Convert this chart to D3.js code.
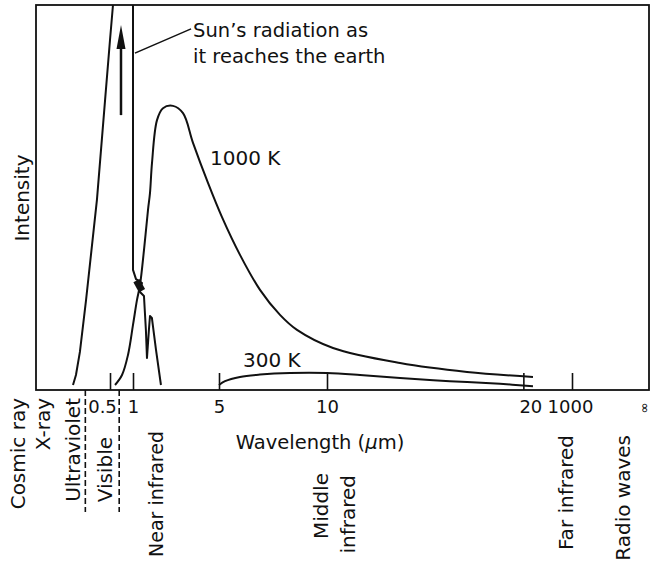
<!DOCTYPE html>
<html>
<head>
<meta charset="utf-8">
<script src="https://cdn.jsdelivr.net/npm/d3@7"></script>
<style>
  body { margin: 0; background: #fff; }
  svg { display: block; font-family: "DejaVu Sans", sans-serif; fill: #111; }
</style>
</head>
<body>
<svg id="chart" width="652" height="562"></svg>
<script>
// curves as [wavelength (um), relative intensity]
var sunCurve = [
    [0.350, 1.3], [0.362, 3.9], [0.378, 9.9], [0.403, 23.4], [0.447, 49.4],
    [0.480, 75.3], [0.500, 90.9], [0.565, 100], [0.630, 109.1], [0.804, 116.9],
    [1.0, 109.1], [1.0, 31.2], [1.14, 28.8], [1.42, 27.8], [1.28, 25.7],
    [1.51, 24.4], [1.60, 15.6], [1.65, 8.3], [1.74, 15.6], [1.79, 19.2],
    [1.88, 18.7], [2.07, 10.4], [2.30, 1.3]
];
var sunKnot = [[1.16, 28.4], [1.42, 25.8]];

var curve1000K = [
    [0.609, 1.3], [0.761, 3.9], [0.891, 9.1], [1.0, 16.9], [1.186, 23.4],
    [1.326, 27.3], [1.512, 36.4], [1.698, 46.8], [1.791, 51.2], [1.884, 59.0],
    [2.116, 70.1], [2.395, 73.2], [2.860, 73.8], [3.326, 71.9], [3.791, 64.2],
    [4.488, 53.8], [5.139, 44.9], [5.972, 35.1], [6.898, 26.0], [7.824, 19.5],
    [8.611, 15.6], [10.306, 10.9], [13.72, 7.0], [17.13, 4.7], [20.49, 3.4]
];

var curve300K = [
    [5.0, 1.3], [5.278, 2.3], [5.972, 3.4], [6.898, 4.0], [8.287, 4.4],
    [10.0, 4.4], [11.68, 3.9], [13.72, 3.1], [16.26, 2.3], [18.81, 1.6],
    [20.49, 1.0]
];

var tickValues = [0.5, 1, 5, 10, 20, 1000];
var tickLabels = ["0.5", "1", "5", "10", "20", "1000"];
var visibleBand = [0.4, 0.7];
var bandNames = ["Cosmic ray", "X-ray", "Ultraviolet", "Visible", "Near infrared",
                 "Middle", "infrared", "Far infrared", "Radio waves"];
var curveNames = ["1000 K", "300 K"];
var sunNote = ["Sun\u2019s radiation as", "it reaches the earth"];
var sunArrow = [0.739, 71.4, 94.8];   // wavelength, from, to

var svg = d3.select("#chart");
var plotLeft = 36, plotTop = 5, plotRight = 649, plotBottom = 390;
var ink = "#111";

// the wavelength axis is not uniform, so a piecewise scale
var x = d3.scaleLinear()
    .domain([0.2, 0.5, 1, 5, 10, 21, 1000])
    .range([plotLeft, 110, 133, 219, 327, 543, 572]);
var y = d3.scaleLinear().domain([0, 100]).range([plotBottom, plotTop]);

svg.append("clipPath").attr("id", "plot-clip")
    .append("rect")
    .attr("x", plotLeft).attr("y", plotTop)
    .attr("width", plotRight - plotLeft).attr("height", plotBottom - plotTop);

/*
 * frame, ticks and tick labels
 */
function renderFrame(svg) {
    svg.append("rect")
        .attr("x", plotLeft).attr("y", plotTop)
        .attr("width", plotRight - plotLeft).attr("height", plotBottom - plotTop)
        .attr("fill", "none")
        .attr("stroke", ink)
        .attr("stroke-width", 1.8);

    var tickDx = {0.5: -8, 20: 7, 1000: -2};
    var axis = d3.axisBottom(x)
        .tickValues(tickValues)
        .tickSize(-17)
        .tickPadding(10)
        .tickFormat(function(d, i) { return tickLabels[i]; });

    var g = svg.append("g")
        .attr("transform", "translate(0," + plotBottom + ")")
        .call(axis);
    g.select(".domain").remove();
    g.selectAll(".tick line").attr("stroke", ink).attr("stroke-width", 1.6);
    g.selectAll(".tick text")
        .attr("fill", ink)
        .attr("font-size", 18)
        .attr("font-family", "DejaVu Sans, sans-serif")
        .attr("dx", function(d) { return tickDx[d] || 0; });

    // infinity at the far end of the axis
    svg.append("text")
        .attr("transform", "translate(646,408) rotate(90)")
        .attr("text-anchor", "middle")
        .attr("dy", "0.35em")
        .attr("font-size", 13)
        .text("\u221e");

    // dashed boundaries of the visible band
    svg.selectAll(".band-sep")
        .data(visibleBand)
        .enter().append("line")
        .attr("class", "band-sep")
        .attr("x1", function(d) { return x(d); })
        .attr("x2", function(d) { return x(d); })
        .attr("y1", plotBottom)
        .attr("y2", 512)
        .attr("stroke", ink)
        .attr("stroke-width", 1.6)
        .attr("stroke-dasharray", "6,3");
    return svg;
}

/*
 * the three spectra
 */
function renderCurves(svg) {
    var plot = svg.append("g").attr("clip-path", "url(#plot-clip)");
    var line = d3.line()
        .x(function(d) { return x(d[0]); })
        .y(function(d) { return y(d[1]); });

    plot.append("path")
        .datum(sunCurve)
        .attr("d", line)
        .attr("fill", "none")
        .attr("stroke", ink)
        .attr("stroke-width", 2)
        .attr("stroke-linejoin", "round");

    plot.append("path")
        .datum(sunKnot)
        .attr("d", line)
        .attr("stroke", ink)
        .attr("stroke-width", 7);

    var smooth = d3.line()
        .curve(d3.curveCatmullRom.alpha(0.5))
        .x(function(d) { return x(d[0]); })
        .y(function(d) { return y(d[1]); });

    [curve1000K, curve300K].forEach(function(c) {
        plot.append("path")
            .datum(c)
            .attr("d", smooth)
            .attr("fill", "none")
            .attr("stroke", ink)
            .attr("stroke-width", 2);
    });
    return svg;
}

/*
 * labels, arrow and callout
 */
function renderLabels(svg) {
    svg.append("text")
        .attr("transform", "translate(29,198) rotate(-90)")
        .attr("text-anchor", "middle")
        .attr("font-size", 20)
        .text("Intensity");

    var xl = svg.append("text")
        .attr("x", 320)
        .attr("y", 449)
        .attr("text-anchor", "middle")
        .attr("font-size", 19.5)
        .text("Wavelength (");
    xl.append("tspan").attr("font-style", "italic").text("\u03bc");
    xl.append("tspan").text("m)");

    // baseline x, top end y and size of each rotated band name
    var bandPos = [[25, 398, 20], [50, 398, 20], [80, 398, 20], [112, 437, 20],
                   [163, 431, 19], [328, 473, 20], [355, 475, 20],
                   [573, 435, 20], [630, 435, 20]];
    svg.selectAll(".band-name")
        .data(bandNames)
        .enter().append("text")
        .attr("class", "band-name")
        .attr("transform", function(d, i) {
            return "translate(" + bandPos[i][0] + "," + bandPos[i][1] + ") rotate(-90)";
        })
        .attr("text-anchor", "end")
        .attr("font-size", function(d, i) { return bandPos[i][2]; })
        .text(function(d) { return d; });

    var namePos = [[4.58, 58.4], [6.11, 6.0]];
    svg.selectAll(".curve-name")
        .data(curveNames)
        .enter().append("text")
        .attr("class", "curve-name")
        .attr("x", function(d, i) { return x(namePos[i][0]); })
        .attr("y", function(d, i) { return y(namePos[i][1]); })
        .attr("font-size", 20)
        .text(function(d) { return d; });

    // upward arrow inside the sun's peak
    var ax = x(sunArrow[0]), ay0 = y(sunArrow[1]), ay1 = y(sunArrow[2]);
    svg.append("line")
        .attr("x1", ax).attr("x2", ax)
        .attr("y1", ay0).attr("y2", ay1 + 15)
        .attr("stroke", ink)
        .attr("stroke-width", 2.5);
    svg.append("path")
        .attr("d", "M" + ax + "," + ay1 + "L" + (ax + 4.5) + "," + (ay1 + 24) +
                   "L" + (ax - 4.5) + "," + (ay1 + 24) + "Z")
        .attr("fill", ink);

    // callout to the sun curve
    var c0 = [x(1.09), y(87.5)], c1 = [x(3.70), y(93.8)];
    svg.append("line")
        .attr("x1", c0[0]).attr("y1", c0[1])
        .attr("x2", c1[0]).attr("y2", c1[1])
        .attr("stroke", ink)
        .attr("stroke-width", 1.6);
    svg.selectAll(".note")
        .data(sunNote)
        .enter().append("text")
        .attr("class", "note")
        .attr("x", c1[0] + 2)
        .attr("y", function(d, i) { return c1[1] + 8 + i * 26; })
        .attr("font-size", 19.5)
        .text(function(d) { return d; });
    return svg;
}

renderFrame(svg);
renderCurves(svg);
renderLabels(svg);
</script>
</body>
</html>
